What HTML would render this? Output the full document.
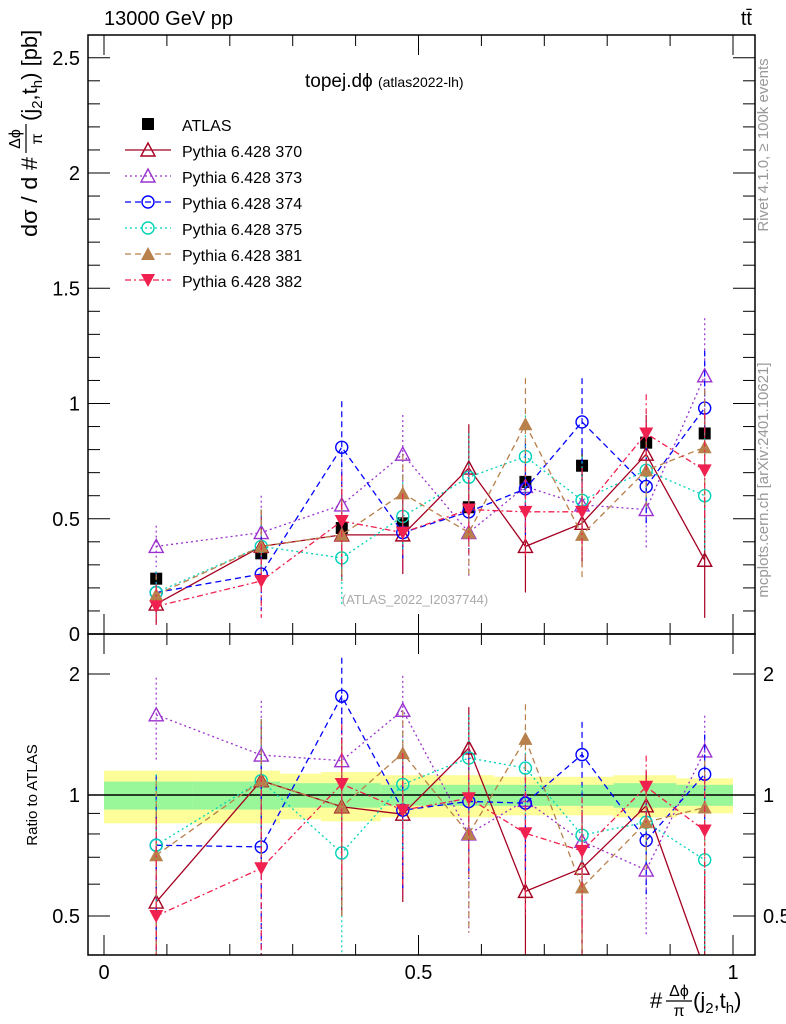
<!DOCTYPE html>
<html><head><meta charset="utf-8"><style>
body{margin:0;background:#fff;overflow:hidden}
svg{display:block;font-family:"Liberation Sans",sans-serif}
</style></head><body>
<svg id="c" width="786" height="1024" viewBox="0 0 786 1024">
<defs>
<clipPath id="clipTop"><rect x="88" y="35" width="667" height="599"/></clipPath>
<clipPath id="clipBot"><rect x="88" y="634" width="667" height="321"/></clipPath>
</defs>
<g id="band" clip-path="url(#clipBot)"></g>
<g id="marks"></g>
<g id="axes"></g>
<text x="104" y="25" font-size="20">13000 GeV pp</text>
<text x="752" y="25" font-size="20" text-anchor="end">tt̄</text>
<text x="305" y="87" font-size="19">topej.dϕ <tspan font-size="14">(atlas2022-lh)</tspan></text>
<text x="415" y="604" font-size="13" fill="#aaa" text-anchor="middle">(ATLAS_2022_I2037744)</text>
<g transform="translate(37,237) rotate(-90)">
 <text x="0" y="0" font-size="22" textLength="80" lengthAdjust="spacingAndGlyphs">dσ / d #</text>
 <text x="98" y="-17" font-size="16" text-anchor="middle">Δϕ</text>
 <line x1="84" x2="113" y1="-11" y2="-11" stroke="#000" stroke-width="1.2"/>
 <text x="98" y="5" font-size="16" text-anchor="middle">π</text>
 <text x="116" y="0" font-size="22">(j<tspan font-size="15" dy="5">2</tspan><tspan dy="-5">,t</tspan><tspan font-size="15" dy="5">h</tspan><tspan dy="-5">) [pb]</tspan></text>
</g>
<text transform="translate(37,795) rotate(-90)" font-size="15" text-anchor="middle">Ratio to ATLAS</text>
<g>
 <text x="650" y="1008" font-size="22">#</text>
 <text x="679" y="996" font-size="16" text-anchor="middle">Δϕ</text>
 <line x1="666" x2="692" y1="1001" y2="1001" stroke="#000" stroke-width="1.2"/>
 <text x="679" y="1016" font-size="16" text-anchor="middle">π</text>
 <text x="693" y="1008" font-size="22">(j<tspan font-size="15" dy="5">2</tspan><tspan dy="-5">,t</tspan><tspan font-size="15" dy="5">h</tspan><tspan dy="-5">)</tspan></text>
</g>
<text transform="translate(768,145) rotate(-90)" font-size="15" fill="#999" text-anchor="middle">Rivet 4.1.0, ≥ 100k events</text>
<text transform="translate(768,480) rotate(-90)" font-size="15" fill="#999" text-anchor="middle">mcplots.cern.ch [arXiv:2401.10621]</text>
<g id="legend"></g>
</svg>
<script>
const xs=[0.083,0.25,0.378,0.475,0.58,0.67,0.76,0.862,0.955];
const binEdges=[0,0.14,0.28,0.345,0.44,0.53,0.62,0.71,0.81,0.91,1];
const bandYellow=[0.15,0.15,0.13,0.14,0.12,0.12,0.11,0.11,0.12,0.10];
const bandGreen=[0.08,0.08,0.07,0.07,0.06,0.06,0.06,0.06,0.07,0.06];
const atlas=[0.24,0.35,0.46,0.48,0.55,0.66,0.73,0.83,0.87];
const atlasErr=[0.03,0.04,0.05,0.05,0.06,0.06,0.07,0.08,0.08];
const s370=[0.13,0.38,0.43,0.43,0.72,0.38,0.48,0.78,0.32];
const s373=[0.38,0.44,0.56,0.78,0.44,0.64,0.56,0.54,1.12];
const s374=[0.18,0.26,0.81,0.44,0.53,0.63,0.92,0.64,0.98];
const s375=[0.18,0.38,0.33,0.51,0.68,0.77,0.58,0.71,0.60];
const s381=[0.17,0.38,0.43,0.61,0.44,0.91,0.43,0.71,0.81];
const s382=[0.12,0.23,0.49,0.44,0.54,0.53,0.53,0.87,0.71];
const simErr=[0.09,0.16,0.2,0.17,0.19,0.2,0.19,0.17,0.25];
const yTicks=[0,0.5,1,1.5,2,2.5];
const rTicks=[0.5,1,2];
const xTicks=[0,0.5,1];

const NS="http://www.w3.org/2000/svg";
const X=v=>104+629*v;
const Y=v=>634-230.5*v;
const R=r=>795-121*Math.log2(r);
function el(t,a,p){const e=document.createElementNS(NS,t);for(const k in a)e.setAttribute(k,a[k]);p.appendChild(e);return e;}
const band=document.getElementById('band'),marks=document.getElementById('marks'),axes=document.getElementById('axes'),leg=document.getElementById('legend');

for(let i=0;i<bandYellow.length;i++){
 const x0=X(binEdges[i]),x1=X(binEdges[i+1]);
 const y=el('rect',{x:x0,y:R(1+bandYellow[i]),width:x1-x0,height:R(1-bandYellow[i])-R(1+bandYellow[i]),fill:'#fdfd99'},band);
 
 
 const g=el('rect',{x:x0,y:R(1+bandGreen[i]),width:x1-x0,height:R(1-bandGreen[i])-R(1+bandGreen[i]),fill:'#99f799'},band);
 
 
}
const one=el('line',{x1:88,x2:755,y1:R(1),y2:R(1),stroke:'#000','stroke-width':1.5},band);



const series=[
 {n:'370',d:s370,c:'#a50021',dash:'',m:'tri-open'},
 {n:'373',d:s373,c:'#9a32cd',dash:'2,3',m:'tri-open'},
 {n:'374',d:s374,c:'#0000ff',dash:'6,4',m:'circ'},
 {n:'375',d:s375,c:'#00d3b8',dash:'2,3',m:'circ'},
 {n:'381',d:s381,c:'#b8804a',dash:'6,4',m:'tri-fill'},
 {n:'382',d:s382,c:'#f0204f',dash:'6,3,2,3',m:'tri-down'}
];
function marker(m,x,y,c,p){
 let e;
 if(m==='tri-open')e=el('polygon',{points:`${x},${y-7} ${x-7},${y+6} ${x+7},${y+6}`,fill:'none',stroke:c,'stroke-width':1.4},p);
 else if(m==='circ')e=el('circle',{cx:x,cy:y,r:6,fill:'none',stroke:c,'stroke-width':1.4},p);
 else if(m==='tri-fill')e=el('polygon',{points:`${x},${y-7} ${x-7},${y+6} ${x+7},${y+6}`,fill:c},p);
 else if(m==='tri-down')e=el('polygon',{points:`${x},${y+7} ${x-7},${y-6} ${x+7},${y-6}`,fill:c},p);
 else e=el('rect',{x:x-6,y:y-6,width:12,height:12,fill:c},p);
 return e;
}
function draw(clip,ys,errHi,errLo,s,name){
 const g=el('g',{'clip-path':`url(#${clip})`},marks);
 
 
 for(let i=0;i<xs.length;i++){
  el('line',{x1:X(xs[i]),x2:X(xs[i]),y1:errHi[i],y2:errLo[i],stroke:s.c,'stroke-width':1.2,'stroke-dasharray':s.dash},g);
 }
 el('polyline',{points:xs.map((x,i)=>X(x)+','+ys[i]).join(' '),fill:'none',stroke:s.c,'stroke-width':1.3,'stroke-dasharray':s.dash},g);
 for(let i=0;i<xs.length;i++){
  const mk=marker(s.m,X(xs[i]),ys[i],s.c,g);
  
  
 }
}
const ag=el('g',{},marks);


for(let i=0;i<xs.length;i++){
 el('line',{x1:X(xs[i]),x2:X(xs[i]),y1:Y(atlas[i]+atlasErr[i]),y2:Y(atlas[i]-atlasErr[i]),stroke:'#000','stroke-width':1.2},ag);
 const m=marker('sq',X(xs[i]),Y(atlas[i]),'#000',ag);
 
 
}
series.forEach(s=>{
 draw('clipTop',s.d.map(Y),s.d.map((v,i)=>Y(v+simErr[i])),s.d.map((v,i)=>Y(Math.max(v-simErr[i],0))),s,'series-'+s.n);
 const r=s.d.map((v,i)=>v/atlas[i]);
 draw('clipBot',r.map(R),s.d.map((v,i)=>R((v+simErr[i])/atlas[i])),s.d.map((v,i)=>R(Math.max(v-simErr[i],0.01)/atlas[i])),s,'ratio-'+s.n);
});

[[35,634],[634,955]].forEach(([t,b],k)=>{
 const f=el('rect',{x:88,y:t,width:667,height:b-t,fill:'none',stroke:'#000','stroke-width':1.5},axes);
 
 
 for(let v=0;v<=1.0001;v+=0.1){
  const L=Math.abs(v*2-Math.round(v*2))<1e-6?20:11;
  el('line',{x1:X(v),x2:X(v),y1:t,y2:t+L,stroke:'#000'},axes);
  el('line',{x1:X(v),x2:X(v),y1:b,y2:b-L,stroke:'#000'},axes);
 }
});
for(let v=0;v<=2.6;v+=0.1){
 const maj=Math.abs(v*2-Math.round(v*2))<1e-6,L=maj?22:12;
 el('line',{x1:88,x2:88+L,y1:Y(v),y2:Y(v),stroke:'#000'},axes);
 el('line',{x1:755,x2:755-L,y1:Y(v),y2:Y(v),stroke:'#000'},axes);
}
yTicks.forEach(v=>{const t=el('text',{x:80,y:Y(v)+7,'font-size':20,'text-anchor':'end'},axes);t.textContent=v;
 
 });
[0.4,0.5,0.6,0.7,0.8,0.9,1,2].forEach(v=>{
 const maj=rTicks.includes(v),L=maj?22:12;
 el('line',{x1:88,x2:88+L,y1:R(v),y2:R(v),stroke:'#000'},axes);
 el('line',{x1:755,x2:755-L,y1:R(v),y2:R(v),stroke:'#000'},axes);
});
rTicks.forEach(v=>{
 const t=el('text',{x:80,y:R(v)+7,'font-size':20,'text-anchor':'end'},axes);t.textContent=v;
 
 
 const t2=el('text',{x:763,y:R(v)+7,'font-size':20},axes);t2.textContent=v;
 
 
});
xTicks.forEach(v=>{const t=el('text',{x:X(v),y:979,'font-size':20,'text-anchor':'middle'},axes);t.textContent=v;
 
 });

const leg0=el('g',{},leg);


marker('sq',148,124,'#000',leg0);
const lt=el('text',{x:182,y:131,'font-size':16},leg0);lt.textContent='ATLAS';
series.forEach((s,i)=>{
 const y=150+26*i;
 const g=el('g',{},leg);
 
 
 el('line',{x1:125,x2:171,y1:y,y2:y,stroke:s.c,'stroke-width':1.3,'stroke-dasharray':s.dash},g);
 marker(s.m,148,y,s.c,g);
 const t=el('text',{x:182,y:y+7,'font-size':16},g);t.textContent='Pythia 6.428 '+s.n;
});
</script>
</body></html>
